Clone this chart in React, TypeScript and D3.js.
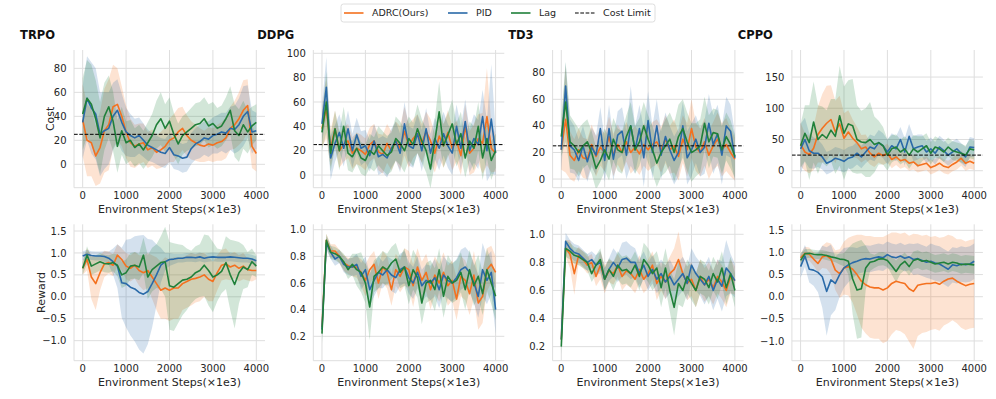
import React from 'react';
import * as d3 from 'd3';

const steps = d3.range(0, 4001, 100);
const seriesNames = ['ADRC(Ours)', 'PID', 'Lag'];
const colors = ['#f4711f', '#2a6aa8', '#20803a'];
const costLimit = 25;
const xTicks = [0, 1000, 2000, 3000, 4000];

// ---- cost, TRPO
const trpoCostAdrc = [37, 20, 18, 7, 14, 28, 33, 48, 50, 40, 27, 18, 15, 17, 18, 12, 14, 10, 12, 15, 20, 22, 27, 30, 24, 20, 18, 16, 15, 17, 16, 18, 19, 22, 30, 33, 38, 45, 49, 15, 9];
const trpoCostPid = [35, 55, 47, 42, 25, 28, 30, 40, 45, 35, 27, 24, 22, 24, 20, 16, 14, 12, 10, 9, 14, 8, 7, 5, 6, 13, 17, 19, 22, 21, 24, 25, 27, 26, 30, 29, 33, 40, 44, 27, 28];
const trpoCostLag = [42, 55, 50, 38, 22, 40, 48, 36, 15, 28, 18, 20, 14, 17, 12, 18, 24, 33, 38, 30, 36, 25, 17, 24, 27, 30, 33, 34, 38, 32, 34, 30, 32, 38, 45, 28, 24, 33, 27, 32, 35];
const trpoCostAdrcSd = [30, 30, 28, 25, 30, 35, 38, 35, 30, 25, 22, 20, 18, 17, 16, 15, 15, 14, 15, 16, 18, 20, 20, 18, 17, 16, 15, 14, 13, 14, 14, 15, 16, 17, 18, 20, 22, 25, 22, 18, 15];
const trpoCostPidSd = [30, 35, 38, 38, 35, 32, 30, 28, 26, 24, 20, 18, 16, 15, 14, 13, 12, 12, 12, 12, 12, 12, 12, 12, 12, 13, 13, 14, 14, 15, 15, 16, 16, 17, 18, 20, 22, 25, 22, 18, 15];
const trpoCostLagSd = [30, 32, 33, 32, 30, 28, 26, 25, 22, 20, 18, 17, 16, 16, 16, 17, 18, 20, 22, 20, 20, 18, 17, 16, 16, 17, 18, 18, 18, 18, 18, 17, 17, 18, 20, 22, 22, 20, 18, 16, 15];
const trpoCostTicks = [0, 20, 40, 60, 80];

// ---- cost, DDPG
const ddpgCostAdrc = [38, 55, 22, 38, 20, 25, 28, 18, 22, 20, 17, 25, 28, 19, 17, 26, 20, 28, 22, 36, 24, 30, 34, 26, 36, 28, 18, 32, 24, 35, 22, 28, 16, 40, 18, 22, 30, 26, 48, 22, 18];
const ddpgCostPid = [42, 72, 14, 26, 35, 22, 38, 20, 33, 22, 24, 16, 28, 15, 17, 14, 22, 28, 18, 42, 24, 22, 34, 20, 38, 18, 30, 22, 34, 24, 18, 40, 22, 44, 20, 30, 25, 48, 20, 46, 18];
const ddpgCostLag = [35, 60, 18, 38, 20, 40, 18, 15, 22, 14, 12, 20, 17, 24, 20, 16, 19, 30, 26, 20, 30, 25, 38, 28, 20, 5, 28, 52, 24, 33, 42, 25, 34, 14, 28, 22, 40, 14, 30, 12, 20];
const ddpgCostAdrcSd = [15, 25, 15, 15, 14, 14, 14, 13, 13, 13, 13, 14, 14, 15, 16, 16, 16, 16, 18, 20, 18, 16, 16, 16, 16, 18, 16, 18, 18, 18, 18, 17, 16, 18, 18, 20, 20, 25, 40, 20, 15];
const ddpgCostPidSd = [15, 25, 18, 15, 15, 15, 15, 14, 14, 14, 13, 13, 14, 15, 15, 16, 16, 16, 16, 18, 16, 16, 16, 17, 17, 16, 17, 18, 18, 18, 18, 18, 18, 18, 18, 20, 20, 22, 25, 45, 18];
const ddpgCostLagSd = [15, 25, 15, 15, 16, 16, 14, 13, 13, 13, 13, 14, 14, 16, 16, 16, 16, 18, 18, 18, 18, 18, 20, 18, 18, 16, 18, 25, 18, 18, 20, 18, 18, 16, 16, 18, 20, 18, 16, 16, 14];
const ddpgCostTicks = [0, 20, 40, 60, 80, 100];

// ---- cost, TD3
const td3CostAdrc = [22, 45, 18, 14, 22, 16, 15, 26, 17, 24, 20, 32, 18, 26, 20, 28, 20, 24, 19, 26, 22, 26, 28, 22, 30, 22, 25, 17, 30, 22, 38, 24, 20, 28, 18, 25, 30, 22, 26, 20, 15];
const td3CostPid = [22, 70, 25, 22, 14, 25, 13, 24, 18, 38, 14, 38, 15, 33, 36, 18, 40, 22, 38, 16, 44, 20, 40, 18, 32, 22, 14, 20, 40, 16, 22, 30, 20, 24, 42, 26, 34, 18, 40, 36, 16];
const td3CostLag = [32, 58, 28, 25, 20, 25, 28, 20, 8, 14, 22, 15, 30, 22, 20, 32, 40, 22, 28, 40, 30, 22, 12, 20, 25, 30, 20, 32, 38, 28, 20, 22, 25, 42, 28, 35, 34, 22, 32, 26, 17];
const td3CostAdrcSd = [15, 40, 18, 16, 16, 15, 15, 15, 15, 14, 14, 15, 16, 15, 15, 15, 16, 16, 16, 16, 16, 17, 17, 17, 18, 18, 20, 18, 18, 20, 22, 18, 18, 18, 18, 18, 20, 20, 20, 18, 16];
const td3CostPidSd = [15, 18, 20, 18, 16, 15, 15, 15, 15, 16, 16, 18, 16, 18, 18, 18, 30, 18, 18, 22, 22, 20, 20, 18, 18, 18, 18, 18, 18, 20, 20, 18, 18, 20, 22, 22, 22, 22, 22, 20, 18];
const td3CostLagSd = [15, 30, 20, 18, 18, 17, 17, 16, 16, 16, 16, 16, 16, 16, 16, 16, 18, 18, 18, 18, 18, 18, 18, 18, 20, 20, 22, 24, 22, 22, 22, 20, 20, 20, 20, 18, 18, 18, 18, 18, 16];
const td3CostTicks = [0, 20, 40, 60, 80];

// ---- cost, CPPO
const cppoCostAdrc = [42, 30, 26, 36, 58, 68, 76, 82, 62, 75, 52, 62, 52, 45, 35, 38, 28, 22, 28, 24, 28, 18, 22, 16, 18, 12, 14, 8, 10, 12, 5, 8, 12, 7, 5, 10, 14, 20, 12, 15, 12];
const cppoCostPid = [35, 50, 32, 28, 28, 22, 12, 15, 20, 18, 15, 20, 22, 28, 22, 30, 38, 35, 45, 40, 30, 40, 35, 50, 30, 55, 35, 38, 40, 30, 35, 28, 38, 32, 25, 30, 35, 28, 22, 38, 37];
const cppoCostLag = [40, 60, 45, 78, 50, 58, 52, 65, 55, 88, 60, 75, 72, 50, 46, 45, 50, 42, 45, 40, 25, 35, 38, 30, 35, 25, 35, 30, 35, 40, 28, 38, 35, 30, 38, 32, 30, 28, 25, 35, 33];
const cppoCostAdrcSd = [35, 30, 30, 35, 45, 55, 60, 55, 50, 45, 40, 35, 30, 25, 22, 20, 18, 16, 15, 15, 15, 14, 13, 13, 12, 12, 12, 11, 11, 11, 11, 11, 11, 11, 11, 11, 12, 12, 12, 12, 11];
const cppoCostPidSd = [40, 35, 28, 25, 22, 20, 18, 18, 18, 18, 18, 18, 18, 18, 18, 18, 20, 20, 20, 20, 20, 20, 20, 20, 22, 20, 20, 20, 18, 18, 18, 18, 18, 18, 17, 17, 16, 16, 16, 16, 15];
const cppoCostLagSd = [35, 45, 60, 65, 55, 45, 45, 50, 60, 80, 75, 70, 75, 55, 50, 55, 60, 45, 35, 30, 25, 22, 20, 20, 20, 22, 22, 25, 20, 20, 18, 17, 16, 16, 15, 15, 15, 15, 15, 15, 15];
const cppoCostTicks = [0, 50, 100, 150];

// ---- reward, TRPO
const trpoRewardAdrc = [0.65, 0.85, 0.45, 0.3, 0.55, 0.75, 0.78, 0.72, 0.95, 0.85, 0.7, 0.65, 0.72, 0.6, 0.55, 0.6, 0.45, 0.3, 0.15, 0.2, 0.15, 0.2, 0.2, 0.3, 0.35, 0.4, 0.42, 0.45, 0.5, 0.4, 0.35, 0.55, 0.72, 0.75, 0.68, 0.72, 0.65, 0.7, 0.62, 0.6, 0.6];
const trpoRewardPid = [0.93, 0.97, 0.94, 0.93, 0.93, 0.92, 0.88, 0.8, 0.7, 0.32, 0.3, 0.22, 0.18, 0.1, 0.06, 0.12, 0.3, 0.5, 0.72, 0.8, 0.85, 0.86, 0.88, 0.88, 0.9, 0.9, 0.89, 0.91, 0.88, 0.9, 0.91, 0.9, 0.9, 0.9, 0.91, 0.9, 0.89, 0.88, 0.88, 0.86, 0.82];
const trpoRewardLag = [0.65, 0.95, 0.7, 0.75, 0.8, 0.76, 0.75, 0.78, 0.72, 0.5, 0.55, 0.7, 0.72, 0.68, 0.95, 0.45, 0.62, 0.7, 0.78, 0.8, 0.25, 0.22, 0.3, 0.38, 0.4, 0.45, 0.55, 0.6, 0.72, 0.6, 0.45, 0.5, 0.58, 0.78, 0.5, 0.28, 0.55, 0.68, 0.62, 0.8, 0.7];
const trpoRewardAdrcSd = [0.15, 0.25, 0.5, 0.6, 0.4, 0.3, 0.25, 0.25, 0.25, 0.25, 0.3, 0.3, 0.3, 0.35, 0.4, 0.4, 0.5, 0.6, 0.65, 0.7, 0.7, 0.7, 0.7, 0.6, 0.6, 0.6, 0.55, 0.55, 0.5, 0.5, 0.45, 0.4, 0.35, 0.35, 0.3, 0.3, 0.3, 0.3, 0.25, 0.25, 0.2];
const trpoRewardPidSd = [0.1, 0.1, 0.1, 0.1, 0.1, 0.12, 0.15, 0.3, 0.5, 0.8, 1.0, 1.1, 1.2, 1.3, 1.35, 1.2, 1.0, 0.7, 0.4, 0.2, 0.15, 0.12, 0.1, 0.1, 0.1, 0.1, 0.1, 0.1, 0.1, 0.1, 0.1, 0.1, 0.1, 0.1, 0.1, 0.1, 0.1, 0.1, 0.1, 0.1, 0.1];
const trpoRewardLagSd = [0.15, 0.2, 0.2, 0.2, 0.2, 0.2, 0.2, 0.2, 0.25, 0.3, 0.3, 0.3, 0.3, 0.3, 0.4, 0.5, 0.5, 0.5, 0.6, 0.8, 1.0, 1.0, 0.9, 0.8, 0.7, 0.6, 0.6, 0.6, 0.7, 0.8, 0.8, 0.6, 0.5, 0.6, 0.8, 1.0, 0.7, 0.5, 0.4, 0.3, 0.25];
const trpoRewardTicks = [-1.0, -0.5, 0.0, 0.5, 1.0, 1.5];

// ---- reward, DDPG
const ddpgRewardAdrc = [0.27, 0.92, 0.84, 0.84, 0.8, 0.75, 0.73, 0.72, 0.72, 0.68, 0.62, 0.7, 0.74, 0.6, 0.72, 0.68, 0.55, 0.7, 0.65, 0.72, 0.7, 0.58, 0.72, 0.62, 0.68, 0.55, 0.66, 0.6, 0.68, 0.58, 0.62, 0.48, 0.65, 0.62, 0.52, 0.66, 0.45, 0.5, 0.7, 0.74, 0.68];
const ddpgRewardPid = [0.25, 0.9, 0.83, 0.78, 0.8, 0.74, 0.72, 0.72, 0.74, 0.65, 0.7, 0.55, 0.62, 0.68, 0.66, 0.7, 0.66, 0.64, 0.7, 0.72, 0.64, 0.6, 0.68, 0.58, 0.62, 0.6, 0.64, 0.55, 0.66, 0.62, 0.6, 0.64, 0.7, 0.72, 0.68, 0.6, 0.5, 0.7, 0.62, 0.68, 0.4];
const ddpgRewardLag = [0.22, 0.92, 0.83, 0.82, 0.8, 0.76, 0.7, 0.74, 0.7, 0.68, 0.6, 0.42, 0.65, 0.68, 0.72, 0.7, 0.75, 0.78, 0.68, 0.72, 0.58, 0.7, 0.64, 0.45, 0.6, 0.62, 0.55, 0.7, 0.5, 0.65, 0.6, 0.62, 0.68, 0.55, 0.7, 0.58, 0.65, 0.52, 0.7, 0.6, 0.5];
const ddpgRewardAdrcSd = [0.08, 0.05, 0.05, 0.05, 0.05, 0.06, 0.06, 0.07, 0.08, 0.1, 0.12, 0.1, 0.1, 0.12, 0.12, 0.12, 0.12, 0.12, 0.12, 0.14, 0.14, 0.16, 0.14, 0.14, 0.14, 0.15, 0.14, 0.14, 0.15, 0.15, 0.15, 0.16, 0.15, 0.15, 0.16, 0.18, 0.2, 0.2, 0.16, 0.14, 0.12];
const ddpgRewardPidSd = [0.08, 0.05, 0.05, 0.05, 0.05, 0.06, 0.06, 0.07, 0.08, 0.1, 0.1, 0.12, 0.12, 0.12, 0.1, 0.1, 0.12, 0.12, 0.12, 0.12, 0.12, 0.12, 0.12, 0.12, 0.12, 0.13, 0.14, 0.14, 0.14, 0.14, 0.14, 0.14, 0.15, 0.15, 0.15, 0.15, 0.16, 0.2, 0.18, 0.16, 0.18];
const ddpgRewardLagSd = [0.08, 0.05, 0.05, 0.05, 0.05, 0.06, 0.07, 0.08, 0.12, 0.15, 0.15, 0.25, 0.12, 0.12, 0.12, 0.12, 0.12, 0.12, 0.12, 0.14, 0.14, 0.15, 0.15, 0.16, 0.15, 0.15, 0.16, 0.16, 0.16, 0.16, 0.15, 0.15, 0.15, 0.15, 0.15, 0.15, 0.16, 0.16, 0.16, 0.16, 0.18];
const ddpgRewardTicks = [0.2, 0.4, 0.6, 0.8, 1.0];

// ---- reward, TD3
const td3RewardAdrc = [0.25, 0.9, 0.86, 0.72, 0.85, 0.82, 0.78, 0.8, 0.7, 0.78, 0.68, 0.74, 0.72, 0.78, 0.7, 0.74, 0.72, 0.68, 0.75, 0.68, 0.72, 0.78, 0.65, 0.7, 0.66, 0.72, 0.75, 0.82, 0.72, 0.65, 0.68, 0.6, 0.7, 0.64, 0.68, 0.62, 0.7, 0.66, 0.6, 0.7, 0.67];
const td3RewardPid = [0.25, 0.95, 0.9, 0.87, 0.86, 0.83, 0.8, 0.82, 0.78, 0.8, 0.68, 0.75, 0.8, 0.76, 0.82, 0.83, 0.8, 0.8, 0.72, 0.78, 0.7, 0.75, 0.68, 0.72, 0.66, 0.7, 0.64, 0.68, 0.72, 0.65, 0.78, 0.72, 0.68, 0.64, 0.7, 0.6, 0.68, 0.63, 0.76, 0.72, 0.67];
const td3RewardLag = [0.2, 0.9, 0.88, 0.85, 0.84, 0.82, 0.8, 0.72, 0.78, 0.82, 0.68, 0.75, 0.7, 0.78, 0.74, 0.75, 0.72, 0.78, 0.7, 0.82, 0.78, 0.72, 0.76, 0.62, 0.76, 0.6, 0.48, 0.65, 0.6, 0.7, 0.65, 0.6, 0.7, 0.68, 0.62, 0.72, 0.66, 0.76, 0.62, 0.72, 0.6];
const td3RewardAdrcSd = [0.05, 0.06, 0.1, 0.15, 0.06, 0.06, 0.06, 0.06, 0.07, 0.1, 0.1, 0.08, 0.08, 0.08, 0.1, 0.1, 0.1, 0.1, 0.1, 0.1, 0.1, 0.1, 0.12, 0.1, 0.12, 0.12, 0.15, 0.2, 0.12, 0.12, 0.12, 0.12, 0.12, 0.12, 0.12, 0.12, 0.12, 0.12, 0.12, 0.12, 0.1];
const td3RewardPidSd = [0.06, 0.06, 0.06, 0.06, 0.06, 0.06, 0.06, 0.06, 0.07, 0.08, 0.08, 0.08, 0.1, 0.1, 0.12, 0.12, 0.12, 0.1, 0.1, 0.1, 0.1, 0.1, 0.1, 0.1, 0.12, 0.12, 0.12, 0.12, 0.12, 0.12, 0.12, 0.12, 0.12, 0.14, 0.14, 0.14, 0.14, 0.18, 0.2, 0.14, 0.12];
const td3RewardLagSd = [0.06, 0.06, 0.06, 0.06, 0.06, 0.06, 0.06, 0.06, 0.07, 0.08, 0.08, 0.08, 0.1, 0.1, 0.1, 0.1, 0.1, 0.1, 0.1, 0.12, 0.12, 0.12, 0.12, 0.14, 0.14, 0.15, 0.2, 0.15, 0.12, 0.12, 0.12, 0.12, 0.12, 0.12, 0.12, 0.12, 0.12, 0.12, 0.12, 0.12, 0.12];
const td3RewardTicks = [0.2, 0.4, 0.6, 0.8, 1.0];

// ---- reward, CPPO
const cppoRewardAdrc = [0.88, 0.98, 0.96, 0.85, 0.75, 0.9, 0.93, 0.85, 0.6, 0.52, 0.65, 0.68, 0.62, 0.5, 0.35, 0.27, 0.22, 0.2, 0.2, 0.15, 0.2, 0.3, 0.35, 0.32, 0.3, 0.18, 0.12, 0.26, 0.28, 0.3, 0.3, 0.32, 0.28, 0.35, 0.4, 0.42, 0.35, 0.3, 0.25, 0.28, 0.3];
const cppoRewardPid = [0.68, 0.92, 0.62, 0.6, 0.55, 0.45, 0.12, 0.38, 0.3, 0.5, 0.65, 0.72, 0.77, 0.8, 0.84, 0.86, 0.85, 0.88, 0.9, 0.88, 0.95, 0.9, 0.88, 0.92, 0.87, 0.9, 0.84, 0.86, 0.82, 0.78, 0.8, 0.76, 0.74, 0.68, 0.62, 0.72, 0.7, 0.74, 0.72, 0.74, 0.8];
const cppoRewardLag = [0.82, 0.97, 0.98, 0.96, 0.95, 0.95, 0.93, 0.9, 0.88, 0.85, 0.84, 0.8, 0.4, 0.15, 0.18, 0.65, 0.78, 0.8, 0.85, 0.86, 0.82, 0.7, 0.57, 0.72, 0.8, 0.68, 0.82, 0.85, 0.8, 0.82, 0.78, 0.74, 0.76, 0.78, 0.74, 0.78, 0.76, 0.72, 0.74, 0.73, 0.72];
const cppoRewardAdrcSd = [0.1, 0.15, 0.15, 0.15, 0.2, 0.25, 0.3, 0.35, 0.45, 0.55, 0.6, 0.65, 0.75, 0.9, 1.05, 1.1, 1.15, 1.15, 1.15, 1.2, 1.2, 1.15, 1.1, 1.1, 1.15, 1.2, 1.3, 1.15, 1.1, 1.1, 1.05, 1.05, 1.05, 1.0, 1.0, 0.95, 0.95, 1.0, 1.0, 1.0, 1.0];
const cppoRewardPidSd = [0.25, 0.25, 0.3, 0.35, 0.45, 0.7, 1.0, 0.8, 0.6, 0.5, 0.45, 0.4, 0.35, 0.3, 0.3, 0.3, 0.3, 0.3, 0.3, 0.3, 0.3, 0.3, 0.3, 0.3, 0.3, 0.3, 0.35, 0.35, 0.35, 0.35, 0.4, 0.4, 0.4, 0.4, 0.4, 0.4, 0.4, 0.4, 0.4, 0.4, 0.4];
const cppoRewardLagSd = [0.15, 0.1, 0.1, 0.1, 0.1, 0.1, 0.1, 0.1, 0.1, 0.12, 0.15, 0.3, 0.8, 1.1, 1.1, 0.5, 0.2, 0.15, 0.15, 0.15, 0.15, 0.2, 0.25, 0.2, 0.2, 0.2, 0.2, 0.2, 0.2, 0.2, 0.2, 0.2, 0.2, 0.2, 0.2, 0.2, 0.2, 0.2, 0.2, 0.2, 0.2];
const cppoRewardTicks = [-1.0, -0.5, 0.0, 0.5, 1.0, 1.5];

const panels = [
  { title: 'TRPO', row: 0, col: 0, domain: [-19.5, 95.3], ticks: trpoCostTicks, fmt: '', means: [trpoCostAdrc, trpoCostPid, trpoCostLag], sds: [trpoCostAdrcSd, trpoCostPidSd, trpoCostLagSd] },
  { title: 'DDPG', row: 0, col: 1, domain: [-10.4, 102.7], ticks: ddpgCostTicks, fmt: '', means: [ddpgCostAdrc, ddpgCostPid, ddpgCostLag], sds: [ddpgCostAdrcSd, ddpgCostPidSd, ddpgCostLagSd] },
  { title: 'TD3', row: 0, col: 2, domain: [-6.5, 97.1], ticks: td3CostTicks, fmt: '', means: [td3CostAdrc, td3CostPid, td3CostLag], sds: [td3CostAdrcSd, td3CostPidSd, td3CostLagSd] },
  { title: 'CPPO', row: 0, col: 3, domain: [-27.2, 193.3], ticks: cppoCostTicks, fmt: '', means: [cppoCostAdrc, cppoCostPid, cppoCostLag], sds: [cppoCostAdrcSd, cppoCostPidSd, cppoCostLagSd] },
  { title: '', row: 1, col: 0, domain: [-1.457, 1.653], ticks: trpoRewardTicks, fmt: '.1f', means: [trpoRewardAdrc, trpoRewardPid, trpoRewardLag], sds: [trpoRewardAdrcSd, trpoRewardPidSd, trpoRewardLagSd] },
  { title: '', row: 1, col: 1, domain: [0.017, 1.0405], ticks: ddpgRewardTicks, fmt: '.1f', means: [ddpgRewardAdrc, ddpgRewardPid, ddpgRewardLag], sds: [ddpgRewardAdrcSd, ddpgRewardPidSd, ddpgRewardLagSd] },
  { title: '', row: 1, col: 2, domain: [0.1, 1.071], ticks: td3RewardTicks, fmt: '.1f', means: [td3RewardAdrc, td3RewardPid, td3RewardLag], sds: [td3RewardAdrcSd, td3RewardPidSd, td3RewardLagSd] },
  { title: '', row: 1, col: 3, domain: [-1.446, 1.636], ticks: cppoRewardTicks, fmt: '.1f', means: [cppoRewardAdrc, cppoRewardPid, cppoRewardLag], sds: [cppoRewardAdrcSd, cppoRewardPidSd, cppoRewardLagSd] },
];

const font = 'DejaVu Sans, sans-serif';
const textColor = '#262626';
const gridColor = '#dedede';

const axW = 191;
const rowTop = [50, 224.3];
const rowH = [137.7, 136.4];
const colLeft = (c: number) => 74 + c * 239.3;

function Panel({ p, idx }: any) {
  const left = colLeft(p.col);
  const top = rowTop[p.row];
  const h = rowH[p.row];
  const bottom = top + h;
  const x = d3.scaleLinear().domain([-200, 4200]).range([left, left + axW]);
  const y = d3.scaleLinear().domain(p.domain).range([bottom, top]);
  const fmt = p.fmt ? d3.format(p.fmt) : d3.format('d');
  const clipId = 'clip' + idx;

  const bands = p.means.map((m: number[], s: number) => {
    const sd = p.sds[s];
    const area = d3.area<number>()
      .x((_, i) => x(steps[i]))
      .y0((d, i) => y(d - sd[i]))
      .y1((d, i) => y(d + sd[i]));
    return <path key={'b' + s} d={area(m) || ''} fill={colors[s]} fillOpacity={0.2} stroke="none" />;
  });
  const lines = p.means.map((m: number[], s: number) => {
    const line = d3.line<number>().x((_, i) => x(steps[i])).y(d => y(d));
    return <path key={'l' + s} d={line(m) || ''} fill="none" stroke={colors[s]} strokeWidth={1.6} strokeLinejoin="round" />;
  });

  return (
    <g>
      <defs>
        <clipPath id={clipId}>
          <rect x={left} y={top} width={axW} height={h} />
        </clipPath>
      </defs>
      {xTicks.map(t => (
        <line key={'gx' + t} x1={x(t)} x2={x(t)} y1={top} y2={bottom} stroke={gridColor} strokeWidth={1} />
      ))}
      {p.ticks.map((t: number) => (
        <line key={'gy' + t} x1={left} x2={left + axW} y1={y(t)} y2={y(t)} stroke={gridColor} strokeWidth={1} />
      ))}
      <line x1={left} x2={left} y1={top} y2={bottom} stroke={gridColor} strokeWidth={1} />
      <line x1={left} x2={left + axW} y1={bottom} y2={bottom} stroke={gridColor} strokeWidth={1} />
      <g clipPath={`url(#${clipId})`}>
        {bands}
        {lines}
        {p.row === 0 && (
          <line x1={left} x2={left + axW} y1={y(costLimit)} y2={y(costLimit)} stroke="#000" strokeWidth={1} strokeDasharray="3.7,1.6" />
        )}
      </g>
      {xTicks.map(t => (
        <text key={'tx' + t} x={x(t)} y={bottom + 11.5} textAnchor="middle" fontSize={10} fill={textColor} fontFamily={font}>{t}</text>
      ))}
      {p.ticks.map((t: number) => (
        <text key={'ty' + t} x={left - 7.5} y={y(t) + 3.6} textAnchor="end" fontSize={10} fill={textColor} fontFamily={font}>{fmt(t).replace('-', '\u2212')}</text>
      ))}
      <text x={left + axW / 2} y={bottom + 25} textAnchor="middle" fontSize={11} fill={textColor} fontFamily={font}>Environment Steps(×1e3)</text>
      {p.title && (
        <text x={left - 19} y={39} textAnchor="end" fontSize={11.5} fontWeight="bold" fill="#111" fontFamily={font}>{p.title}</text>
      )}
      {p.col === 0 && (
        <text transform={`translate(${p.row === 0 ? 54 : 44.5},${(top + bottom) / 2}) rotate(-90)`} textAnchor="middle" fontSize={11} fill={textColor} fontFamily={font}>
          {p.row === 0 ? 'Cost' : 'Reward'}
        </text>
      )}
    </g>
  );
}

function Legend() {
  const items = [...seriesNames, 'Cost Limit'];
  const starts = [344, 448, 511, 575];
  return (
    <g>
      <rect x={341} y={4} width={314} height={18} rx={2.5} fill="#fff" stroke="#d6d6d6" strokeWidth={0.8} />
      {items.map((name, i) => (
        <g key={name}>
          <line x1={starts[i]} x2={starts[i] + 19.5} y1={13} y2={13}
            stroke={i < 3 ? colors[i] : '#000'} strokeWidth={i < 3 ? 1.6 : 1.2}
            strokeDasharray={i < 3 ? undefined : '3.7,1.6'} />
          <text x={starts[i] + 28} y={16.3} fontSize={9.5} fill={textColor} fontFamily={font}>{name}</text>
        </g>
      ))}
    </g>
  );
}

export default function App() {
  return (
    <svg width={996} height={399} style={{ position: 'absolute', left: 0, top: 0, background: '#fff' }}>
      {panels.map((p, i) => <Panel key={i} p={p} idx={i} />)}
      <Legend />
    </svg>
  );
}
